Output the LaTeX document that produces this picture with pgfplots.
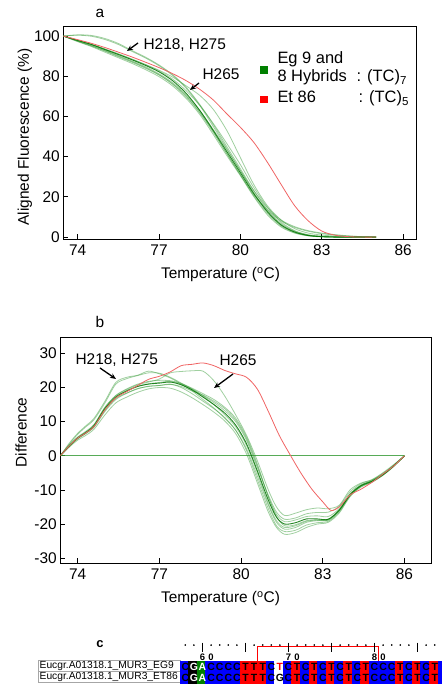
\documentclass[border=0pt]{standalone}
\usepackage{fontspec}
\setmainfont{Liberation Sans}
\usepackage{pgfplots}
\pgfplotsset{compat=1.18}
\usepackage{pgfplotstable}
\usetikzlibrary{arrows.meta}

\definecolor{gline}{RGB}{45,150,45}
\definecolor{gdark}{RGB}{0,115,0}
\definecolor{rline}{RGB}{240,100,100}
\definecolor{lgreen}{RGB}{0,128,0}
\newcommand\lf{\fontsize{15.5}{18}\selectfont}

% panel a: aligned fluorescence
\pgfplotstableread{
T     g1    g2    g3    g4    g5    g6    g7    g8    g9
73.47 100   100   100   100   100   100   100   100   100
74.0  97.8  97.5  97.2  98.0  100.6 100.4 97.9  97.6  97.4
74.5  95.8  95.2  94.8  96.0  100.3 99.9  95.9  95.5  95.1
75.0  93.3  92.7  92.0  93.6  98.8  98.3  93.5  93.0  92.5
75.5  90.8  90.0  89.2  91.2  96.3  95.8  91.0  90.3  89.7
76.0  88.2  87.3  86.4  88.6  92.8  92.4  88.4  87.6  87.0
76.5  85.4  84.3  83.3  85.8  89.5  89.1  85.8  84.7  84.0
77.0  82.2  80.8  79.8  82.6  85.6  85.2  83.0  81.2  80.6
77.5  77.8  76.3  75.2  78.6  80.8  80.4  79.6  76.8  76.0
78.0  71.5  70.2  69.0  72.8  74.5  74.0  75.2  70.8  69.8
78.5  63.0  62.2  61.0  65.5  66.0  65.5  70.5  63.0  61.8
79.0  53.0  52.5  51.0  56.5  56.0  55.0  63.5  53.5  52.0
79.5  42.5  41.5  40.5  46.5  45.0  44.0  53.0  43.5  41.5
80.0  32.0  31.0  30.5  36.0  34.0  33.0  39.5  33.0  31.0
80.5  21.5  20.5  20.0  24.5  23.0  22.0  26.0  23.0  21.0
81.0  12.5  11.8  11.0  14.8  13.5  12.8  15.5  14.5  13.5
81.5  6.0   5.5   5.0   7.5   6.8   6.3   8.5   8.5   8.0
82.0  2.5   2.2   2.0   3.2   2.9   2.7   4.2   5.2   4.8
82.5  0.8   0.7   0.6   1.2   1.0   0.9   2.0   3.2   2.9
83.0  0.2   0.2   0.1   0.4   0.3   0.3   1.0   2.0   1.7
83.5  0     0     0     0.1   0.1   0.1   0.5   1.2   1.0
84.0  0     0     0     0     0     0     0.2   0.6   0.5
84.5  0     0     0     0     0     0     0     0.2   0.2
85.0  0     0     0     0     0     0     0     0     0
}\meltA

\pgfplotstableread{
T     r
73.47 100
74.0  98.2
74.5  96.4
75.0  94.3
75.5  92.0
76.0  89.6
76.5  87.0
77.0  84.3
77.5  81.3
78.0  77.8
78.5  73.5
79.0  68.2
79.5  61.3
80.0  54.6
80.5  47.0
81.0  37.1
81.5  26.2
82.0  15.6
82.5  8.1
83.0  3.0
83.5  0.9
84.0  0.2
84.5  0
85.0  0
}\redA

% panel b: difference plot
\pgfplotstableread{
T     b1    b2    b3    b4    b5    b6    b7    b8    b9
73.36 0     0     0     0     0     0     0     0     0
73.7  3.0   3.8   3.5   3.1   2.6   2.8   3.2   2.9   3.0
74.0  5.2   6.6   6.3   5.4   4.6   5.0   5.5   5.0   5.3
74.3  6.8   8.8   8.5   7.0   6.0   6.5   7.2   6.6   6.9
74.6  8.8   11.0  10.6  9.1   7.8   8.4   9.2   8.5   8.9
75.0  13.8  16.0  15.5  14.2  12.0  13.0  14.2  13.3  13.9
75.4  17.2  21.5  21.0  17.6  15.5  16.5  17.7  16.8  17.3
75.8  19.0  23.0  22.6  19.4  17.2  18.3  19.6  18.4  19.1
76.2  20.3  23.6  23.5  20.8  18.6  19.6  21.0  19.7  20.4
76.6  21.0  24.8  24.3  21.6  19.6  20.4  21.8  20.3  21.1
77.0  21.3  24.0  24.2  22.5  20.0  20.6  22.1  20.6  21.5
77.4  21.6  22.8  23.0  24.3  19.8  20.9  22.0  21.0  21.8
77.8  20.8  21.0  21.3  24.7  18.7  20.3  21.2  20.0  21.0
78.2  19.3  19.0  19.5  24.9  17.0  19.0  19.8  18.2  19.6
78.6  17.2  16.5  17.5  24.8  15.0  17.8  18.2  16.0  17.7
79.0  15.0  14.0  15.0  22.0  12.8  16.0  16.5  13.8  15.6
79.4  12.5  11.0  12.0  17.5  10.2  13.8  14.2  11.2  13.2
79.8  9.0   7.5   8.5   12.0  6.5   10.5  11.0  7.5   10.0
80.2  3.5   2.0   3.0   6.0   0.5   5.0   5.5   1.5   4.5
80.6  -4.5  -6.0  -5.0  -1.5  -8.0  -3.0  -2.5  -7.0  -3.5
81.0  -13.0 -14.5 -14.0 -10.0 -16.5 -12.0 -12.0 -15.5 -11.5
81.3  -18.0 -19.5 -19.0 -15.0 -21.0 -17.2 -17.8 -20.5 -16.5
81.6  -20.0 -21.5 -21.0 -17.5 -23.0 -19.3 -20.5 -22.2 -18.6
82.0  -19.6 -21.0 -20.5 -16.8 -22.5 -18.8 -20.2 -21.8 -18.2
82.4  -18.5 -19.5 -19.2 -15.8 -21.0 -17.8 -19.0 -20.3 -17.0
82.8  -18.5 -19.0 -18.8 -15.3 -20.0 -17.6 -18.8 -19.6 -16.6
83.2  -18.6 -18.8 -18.6 -15.5 -19.5 -17.8 -18.9 -19.2 -16.5
83.6  -16.0 -16.0 -15.8 -14.5 -16.8 -15.5 -16.2 -16.5 -14.8
84.0  -11.5 -11.3 -11.2 -10.0 -12.0 -11.2 -11.6 -11.8 -10.6
84.4  -8.8  -8.6  -8.6  -8.0  -9.2  -8.6  -8.9  -9.0  -8.2
84.8  -7.5  -7.3  -7.3  -7.0  -7.8  -7.4  -7.6  -7.7  -7.1
85.2  -5.6  -5.4  -5.4  -5.0  -5.8  -5.5  -5.6  -5.7  -5.2
85.6  -3.0  -2.9  -2.9  -2.6  -3.2  -3.0  -3.0  -3.1  -2.8
86.0  0     0     0     0     0     0     0     0     0
}\meltB

\pgfplotstableread{
T     r
73.36 0
73.7  3.0
74.0  5.2
74.3  6.7
74.6  8.6
75.0  13.5
75.4  17.0
75.8  18.8
76.2  20.6
76.6  22.4
77.0  23.3
77.4  24.6
77.8  26.4
78.2  26.8
78.6  27.2
79.0  26.4
79.4  25.0
79.8  24.0
80.2  23.0
80.6  19.5
81.0  13.0
81.4  6.0
81.8  0.3
82.2  -5.1
82.6  -9.8
83.0  -13.5
83.3  -16.0
83.6  -15.0
84.0  -11.5
84.4  -9.8
84.8  -7.8
85.2  -5.4
85.6  -3.0
86.0  0
}\redB

% panel c: alignment cells, one row per sequence
\pgfplotstableread{
p  r b
58 0 C
59 0 G
60 0 A
61 0 C
62 0 C
63 0 C
64 0 C
65 0 T
66 0 T
67 0 T
68 0 C
69 0 W
70 0 C
71 0 T
72 0 C
73 0 T
74 0 C
75 0 T
76 0 C
77 0 T
78 0 C
79 0 T
80 0 C
81 0 C
82 0 C
83 0 T
84 0 C
85 0 T
86 0 C
87 0 T
88 0 C
58 1 C
59 1 G
60 1 A
61 1 C
62 1 C
63 1 C
64 1 C
65 1 T
66 1 T
67 1 T
68 1 C
69 1 W
70 1 C
71 1 T
72 1 C
73 1 T
74 1 C
75 1 T
76 1 C
77 1 T
78 1 C
79 1 T
80 1 C
81 1 C
82 1 C
83 1 T
84 1 C
85 1 T
86 1 C
87 1 T
88 1 C
}\seqcells

\pgfplotstableread{
p  r l
58 0 C
61 0 C
62 0 C
63 0 C
64 0 C
65 0 T
66 0 T
67 0 T
68 0 C
69 0 G
70 0 C
71 0 T
72 0 C
73 0 T
74 0 C
75 0 T
76 0 C
77 0 T
78 0 C
79 0 T
80 0 C
81 0 C
82 0 C
83 0 T
84 0 C
85 0 T
86 0 C
87 0 T
58 1 C
61 1 C
62 1 C
63 1 C
64 1 C
65 1 T
66 1 T
67 1 T
68 1 C
70 1 C
71 1 T
72 1 C
73 1 T
74 1 C
75 1 T
76 1 C
77 1 T
78 1 C
79 1 T
80 1 C
81 1 C
82 1 C
83 1 T
84 1 C
85 1 T
86 1 C
87 1 T
}\lettersK

\pgfplotstableread{
p  r l
59 0 G
60 0 A
59 1 G
60 1 A
}\lettersW

\pgfplotstableread{
p  r l
69 1 T
}\lettersR

\pgfplotsset{
  melt/.style={
    scale only axis,
    tick align=inside,
    xtick pos=bottom, ytick pos=left,
    major tick length=5bp,
    every tick/.style={black, line width=0.8bp},
    axis line style={line width=0.9bp},
    tick label style={font=\lf},
    xticklabel shift=2bp,
    /pgf/number format/assume math mode=true,
    xtick={74,77,80,83,86},
  },
  g/.style={gline, opacity=0.45, line width=0.8bp, smooth, tension=0.5},
  gd/.style={gdark, opacity=0.85, line width=0.9bp, smooth, tension=0.5},
  rd/.style={rline, line width=0.8bp, smooth, tension=0.5},
  seq/.style={only marks, mark=none, nodes near coords, point meta=explicit symbolic,
    nodes near coords align={center},
    every node near coord/.append style={font=\fontsize{10.5}{12}\bfseries, inner sep=0pt, anchor=center}},
}

\begin{document}
\begin{tikzpicture}

% ---- a ----
\begin{axis}[melt, at={(63.3bp,450.7bp)}, anchor=south west,
  width=353.4bp, height=213.3bp,
  xmin=73.47, xmax=86.5, ymin=-1.1, ymax=105,
  ytick={0,20,...,100}]
\addplot[g] table[x=T,y=g2]{\meltA};
\addplot[g] table[x=T,y=g3]{\meltA};
\addplot[g] table[x=T,y=g4]{\meltA};
\addplot[g] table[x=T,y=g5]{\meltA};
\addplot[g] table[x=T,y=g6]{\meltA};
\addplot[g] table[x=T,y=g7]{\meltA};
\addplot[g] table[x=T,y=g8]{\meltA};
\addplot[g] table[x=T,y=g9]{\meltA};
\addplot[gd] table[x=T,y=g1]{\meltA};
\addplot[rd] table[x=T,y=r]{\redA};
\end{axis}

\node[anchor=base] at (100bp,672bp) {\lf a};
\node[anchor=base] at (220.5bp,411bp) {\lf Temperature (\textsuperscript{o}C)};
\node[rotate=90] at (25bp,553bp) {\lf Aligned Fluorescence (\%)};
\node[anchor=base west] at (140bp,640bp) {\lf H218, H275};
\draw[-{Stealth[length=6bp,width=5bp]}, line width=1.3bp] (138bp,647bp) -- (127bp,639bp);
\node[anchor=base west] at (199bp,610bp) {\lf H265};
\draw[-{Stealth[length=6bp,width=5bp]}, line width=1.3bp] (199bp,607bp) -- (190bp,600bp);

\fill[lgreen] (260bp,616bp) rectangle (268bp,624bp);
\fill[red] (260bp,587bp) rectangle (268bp,594bp);
\node[anchor=base west] at (274bp,626bp) {\fontsize{16.5}{19}\selectfont Eg 9 and};
\node[anchor=base west] at (274bp,608.5bp) {\fontsize{16.5}{19}\selectfont 8 Hybrids};
\node[anchor=base west] at (353bp,608.5bp) {\fontsize{16.5}{19}\selectfont : (TC)\textsubscript{7}};
\node[anchor=base west] at (274bp,587bp) {\fontsize{16.5}{19}\selectfont Et 86};
\node[anchor=base west] at (355bp,587bp) {\fontsize{16.5}{19}\selectfont : (TC)\textsubscript{5}};

% ---- b ----
\begin{axis}[melt, at={(60.3bp,126.7bp)}, anchor=south west,
  width=371.4bp, height=225.6bp,
  xmin=73.36, xmax=87.0, ymin=-31.5, ymax=34.6,
  ytick={-30,-20,...,30}]
\addplot[gline, opacity=0.8, line width=0.9bp] coordinates {(73.36,0) (86.0,0)};
\addplot[g] table[x=T,y=b2]{\meltB};
\addplot[g] table[x=T,y=b3]{\meltB};
\addplot[g] table[x=T,y=b4]{\meltB};
\addplot[g] table[x=T,y=b5]{\meltB};
\addplot[g] table[x=T,y=b6]{\meltB};
\addplot[g] table[x=T,y=b7]{\meltB};
\addplot[g] table[x=T,y=b8]{\meltB};
\addplot[g] table[x=T,y=b9]{\meltB};
\addplot[gd] table[x=T,y=b1]{\meltB};
\addplot[rd] table[x=T,y=r]{\redB};
\end{axis}

\node[anchor=base] at (100bp,362bp) {\lf b};
\node[anchor=base] at (220.5bp,87bp) {\lf Temperature (\textsuperscript{o}C)};
\node[rotate=90] at (21bp,257.5bp) {\lf Difference};
\node[anchor=base west] at (72bp,325bp) {\lf H218, H275};
\draw[-{Stealth[length=6bp,width=5bp]}, line width=1.3bp] (100bp,322bp) -- (116bp,311bp);
\node[anchor=base west] at (216bp,324bp) {\lf H265};
\draw[-{Stealth[length=6bp,width=5bp]}, line width=1.3bp] (233bp,316bp) -- (214bp,302bp);

% ---- c ----
\node[anchor=base] at (100bp,42bp) {\fontsize{13}{15}\bfseries c};
\draw[gray!70, line width=0.6bp] (38.3bp,30bp) rectangle (180bp,19bp);
\draw[gray!70, line width=0.6bp] (38.3bp,19bp) rectangle (180bp,8bp);
\node[anchor=base west, inner sep=0pt] at (39.5bp,21.5bp) {\fontsize{10.3}{12}\selectfont Eucgr.A01318.1\_MUR3\_EG9};
\node[anchor=base west, inner sep=0pt] at (39.5bp,10.5bp) {\fontsize{10.3}{12}\selectfont Eucgr.A01318.1\_MUR3\_ET86};

\begin{axis}[at={(181bp,7bp)}, anchor=south west, scale only axis,
  width=266.6bp, height=22bp,
  xmin=57.5, xmax=88.5, ymin=-0.5, ymax=1.5,
  hide axis, clip=false]
% one filled cell per base, 8.6bp wide and 11bp tall
\addplot[scatter, only marks, point meta=explicit symbolic,
  scatter/classes={
    C={mark=square*, blue, mark options={xscale=0.782, draw=none, fill=blue}},
    T={mark=square*, red, mark options={xscale=0.782, draw=none, fill=red}},
    G={mark=square*, black, mark options={xscale=0.782, draw=none, fill=black}},
    A={mark=square*, lgreen, mark options={xscale=0.782, draw=none, fill=lgreen}},
    W={mark=square*, white, mark options={xscale=0.782, draw=none, fill=white}}},
  mark size=5.55bp]
  table[x=p, y=r, meta=b]{\seqcells};
\addplot[seq, every node near coord/.append style={text=black}] table[x=p, y=r, meta=l]{\lettersK};
\addplot[seq, every node near coord/.append style={text=white}] table[x=p, y=r, meta=l]{\lettersW};
\addplot[seq, every node near coord/.append style={text=red}] table[x=p, y=r, meta=l]{\lettersR};
\addplot[only marks, mark=*, mark size=0.6bp, black] coordinates {
  (58,2.95) (59,2.95) (61,2.95) (62,2.95) (63,2.95) (64,2.95) (66,2.95) (67,2.95)
  (68,2.95) (69,2.95) (71,2.95) (72,2.95) (73,2.95) (74,2.95) (76,2.95) (77,2.95)
  (78,2.95) (79,2.95) (81,2.95) (82,2.95) (83,2.95) (84,2.95) (86,2.95) (87,2.95) (88,2.95)};
\addplot[only marks, mark=|, mark size=4.5bp, black, mark options={line width=0.9bp}] coordinates {
  (60,2.77) (65,2.77) (70,2.77) (75,2.77) (80,2.77) (85,2.77)};
\draw[red, line width=1bp] (axis cs:66.35,-0.5) -- (axis cs:66.35,2.82) -- (axis cs:80.45,2.82) -- (axis cs:80.45,-0.5);
\node[anchor=base, inner sep=0pt] at (axis cs:60,1.56) {\fontsize{9.5}{11}\bfseries 6};
\node[anchor=base, inner sep=0pt] at (axis cs:61,1.56) {\fontsize{9.5}{11}\bfseries 0};
\node[anchor=base, inner sep=0pt] at (axis cs:70,1.56) {\fontsize{9.5}{11}\bfseries 7};
\node[anchor=base, inner sep=0pt] at (axis cs:71,1.56) {\fontsize{9.5}{11}\bfseries 0};
\node[anchor=base, inner sep=0pt] at (axis cs:80,1.56) {\fontsize{9.5}{11}\bfseries 8};
\node[anchor=base, inner sep=0pt] at (axis cs:81,1.56) {\fontsize{9.5}{11}\bfseries 0};
\end{axis}

\pgfresetboundingbox
\path (0,0) rectangle (442bp,690bp);
\end{tikzpicture}
\end{document}
